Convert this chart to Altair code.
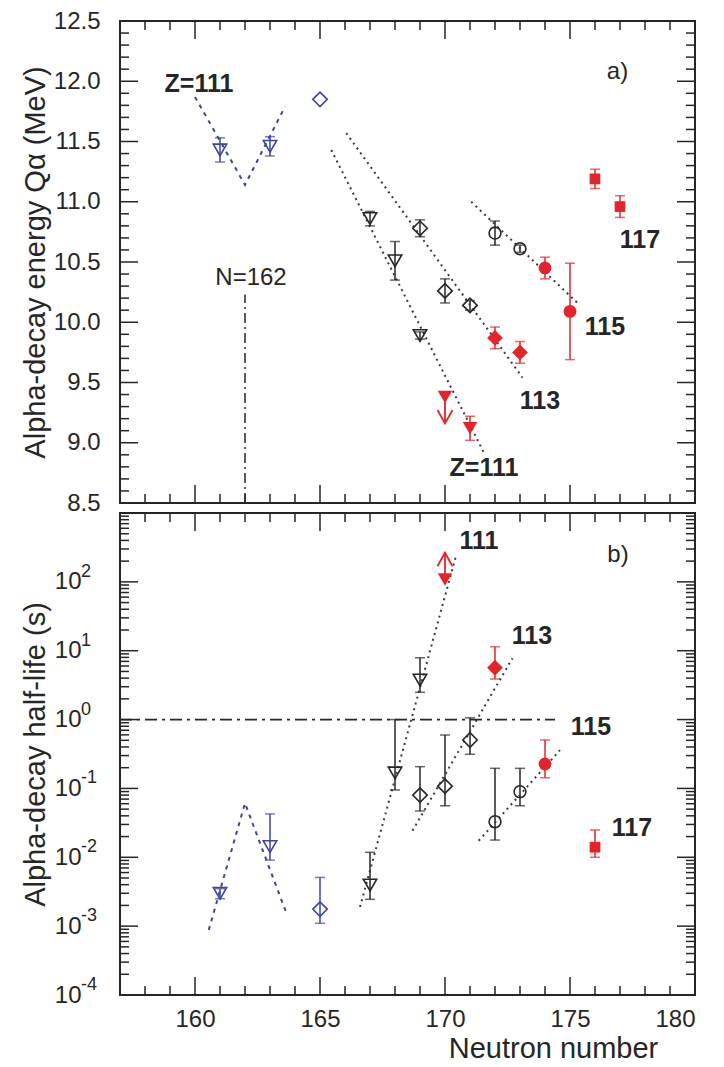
import altair as alt
import pandas as pd

FONT = "Liberation Sans"
INK = "#262626"
RED = "#e3242b"
BLUE = "#3d45a0"
DOT = "#3a3a3a"

# ---------------- panel a) : alpha-decay energies (MeV) ----------------
qa_N = [161, 163, 165, 167, 168, 169, 169, 170, 171, 172, 173, 172, 173, 174, 175, 176, 177, 170, 171]
qa_Q = [11.43, 11.46, 11.85, 10.86, 10.51, 10.78, 9.89, 10.26, 10.14, 10.74, 10.61,
        9.87, 9.75, 10.45, 10.09, 11.19, 10.96, 9.38, 9.12]
qa_err = [0.10, 0.08, 0.0, 0.06, 0.16, 0.07, 0.03, 0.10, 0.04, 0.10, 0.03,
          0.09, 0.09, 0.09, 0.40, 0.08, 0.09, 0.0, 0.10]
qa_style = ["b_tri", "b_tri", "b_dia", "k_tri", "k_tri", "k_dia", "k_tri", "k_dia", "k_dia",
            "k_cir", "k_cir", "r_dia", "r_dia", "r_cir", "r_cir", "r_sq", "r_sq", "r_tri", "r_tri"]

# upper limit arrow (panel a)
qa_lim_N = [170]
qa_lim_from = [9.38]
qa_lim_to = [9.16]

# systematics lines (panel a)
qa_line_series = ["blue", "blue", "blue", "111", "111", "113", "113", "115", "115"]
qa_line_N = [160.0, 162.0, 163.6, 165.45, 171.55, 166.05, 173.1, 171.05, 175.3]
qa_line_Q = [11.87, 11.14, 11.79, 11.43, 8.92, 11.57, 9.54, 11.0, 10.16]

# N=162 dash-dot marker line
n162_N = [162]
n162_from = [8.5]
n162_to = [10.23]

qa_bold_text = ["Z=111", "117", "115", "113", "Z=111"]
qa_bold_N = [160.16, 177.8, 176.4, 173.8, 171.56]
qa_bold_Q = [11.98, 10.68, 9.96, 9.35, 8.79]
qa_plain_text = ["N=162", "a)"]
qa_plain_N = [162.24, 176.9]
qa_plain_Q = [10.37, 12.08]

# ---------------- panel b) : alpha-decay half-lives (s) ----------------
t_N = [161, 163, 165, 167, 168, 169, 169, 170, 171, 172, 173, 172, 174, 176, 170]
t_T = [0.0030, 0.0143, 0.00177, 0.00395, 0.168, 3.75, 0.080, 0.108, 0.505, 0.0329, 0.0898,
       5.66, 0.226, 0.0140, 108]
t_lo = [0.0025, 0.0091, 0.0011, 0.00245, 0.095, 2.49, 0.047, 0.056, 0.313, 0.0178, 0.056,
        3.88, 0.143, 0.010, 108]
t_hi = [0.0035, 0.0426, 0.0051, 0.0118, 1.0, 7.9, 0.207, 0.597, 1.06, 0.196, 0.196,
        11.4, 0.505, 0.0249, 108]
t_style = ["b_tri", "b_tri", "b_dia", "k_tri", "k_tri", "k_tri", "k_dia", "k_dia", "k_dia",
           "k_cir", "k_cir", "r_dia", "r_cir", "r_sq", "r_tri"]

t_lim_N = [170]
t_lim_from = [108]
t_lim_to = [265]

t_line_series = ["blue", "blue", "blue", "111", "111", "113", "113", "115", "115"]
t_line_N = [160.55, 162.0, 163.65, 166.6, 170.45, 168.7, 172.7, 171.35, 174.6]
t_line_T = [0.00088, 0.061, 0.00157, 0.0019, 245, 0.0243, 7.8, 0.0174, 0.36]

one_sec_from_N = [157]
one_sec_to_N = [174.4]
one_sec_T = [1.0]

t_bold_text = ["111", "113", "115", "117"]
t_bold_N = [171.36, 173.48, 175.84, 177.48]
t_bold_T = [392, 16.3, 0.78, 0.0266]
t_plain_text = ["b)"]
t_plain_N = [176.92]
t_plain_T = [245]

# axis tick values / labels
x_major = [160, 165, 170, 175, 180]
x_minor = [n for n in range(158, 180) if n % 5 != 0]
qa_major = [8.5, 9.0, 9.5, 10.0, 10.5, 11.0, 11.5, 12.0, 12.5]
qa_minor = [round(8.5 + 0.1 * i, 2) for i in range(41) if i % 5 != 0]
t_major = [1e-4, 1e-3, 1e-2, 1e-1, 1.0, 10.0, 100.0, 1000.0]
t_minor = [k * 10.0 ** d for d in range(-4, 3) for k in range(2, 10)]
t_label_vals = [1e-4, 1e-3, 1e-2, 1e-1, 1.0, 10.0, 100.0]
t_label_exps = ["-4", "-3", "-2", "-1", "0", "1", "2"]

# ---------------- styling ----------------
W, H = 575, 482
STYLE = {
    "b_tri": ("triangle-down", BLUE, False, 180),
    "b_dia": ("diamond", BLUE, False, 210),
    "k_tri": ("triangle-down", INK, False, 180),
    "k_dia": ("diamond", INK, False, 210),
    "k_cir": ("circle", INK, False, 140),
    "r_tri": ("triangle-down", RED, True, 210),
    "r_dia": ("diamond", RED, True, 250),
    "r_cir": ("circle", RED, True, 165),
    "r_sq": ("square", RED, True, 115),
}
style_keys = list(STYLE)
style_colors = [STYLE[k][1] for k in style_keys]
color_enc = alt.Color("style:N", scale=alt.Scale(domain=style_keys, range=style_colors), legend=None)

xs = alt.Scale(domain=[157, 180], nice=False, zero=False)


class Panel:
    def __init__(self, ys, yaxis, xaxis, y_maj, y_min):
        self.ys, self.yaxis, self.xaxis = ys, yaxis, xaxis
        self.y_maj, self.y_min = y_maj, y_min

    def X(self, f):
        return alt.X(f, scale=xs, axis=self.xaxis)

    def Y(self, f):
        return alt.Y(f, scale=self.ys, axis=self.yaxis)

    def ticks(self):
        layers = []
        for vals, L in ((self.y_maj, 18), (self.y_min, 9)):
            d = pd.DataFrame({"v": vals})
            b = alt.Chart(d).mark_rule(color=INK, strokeWidth=1.5)
            layers.append(b.encode(y=self.Y("v:Q"), x=alt.value(0), x2=alt.value(L)))
            layers.append(b.encode(y=self.Y("v:Q"), x=alt.value(W - L), x2=alt.value(W)))
        for vals, L in ((x_major, 18), (x_minor, 9)):
            d = pd.DataFrame({"v": vals})
            b = alt.Chart(d).mark_rule(color=INK, strokeWidth=1.5)
            layers.append(b.encode(x=self.X("v:Q"), y=alt.value(0), y2=alt.value(L)))
            layers.append(b.encode(x=self.X("v:Q"), y=alt.value(H - L), y2=alt.value(H)))
        return layers

    def points(self, df):
        layers = []
        present = set(df["style"])
        for k in style_keys:
            if k not in present:
                continue
            shape, col, filled, size = STYLE[k]
            layers.append(
                alt.Chart(df).transform_filter(alt.datum.style == k)
                .mark_point(shape=shape, color=col, filled=filled, size=size, strokeWidth=1.6, opacity=1)
                .encode(x=self.X("N:Q"), y=self.Y("val:Q"))
            )
        return layers

    def build(self, df, lines, bold, plain, lim, path, extra):
        err = df[df["hi"] > df["lo"]]
        bars = alt.Chart(err).mark_rule(strokeWidth=1.5).encode(
            x=self.X("N:Q"), y=self.Y("lo:Q"), y2="hi:Q", color=color_enc)
        caps_lo = alt.Chart(err).mark_tick(orient="horizontal", size=10, thickness=1.5).encode(
            x=self.X("N:Q"), y=self.Y("lo:Q"), color=color_enc)
        caps_hi = alt.Chart(err).mark_tick(orient="horizontal", size=10, thickness=1.5).encode(
            x=self.X("N:Q"), y=self.Y("hi:Q"), color=color_enc)
        black_lines = alt.Chart(lines).transform_filter(alt.datum.series != "blue").mark_line(
            color=DOT, strokeWidth=2, strokeDash=[2, 4]).encode(
            x=self.X("N:Q"), y=self.Y("val:Q"), detail="series:N")
        blue_line = alt.Chart(lines).transform_filter(alt.datum.series == "blue").mark_line(
            color=BLUE, strokeWidth=2, strokeDash=[4, 5]).encode(
            x=self.X("N:Q"), y=self.Y("val:Q"))
        lim_rule = alt.Chart(lim).mark_rule(color=RED, strokeWidth=1.8).encode(
            x=self.X("N:Q"), y=self.Y("a:Q"), y2="b:Q")
        lim_head = alt.Chart(lim).mark_point(
            shape=path, color=RED, filled=False, size=225, strokeWidth=1.8, opacity=1).encode(
            x=self.X("N:Q"), y=self.Y("b:Q"))
        bold_txt = alt.Chart(bold).mark_text(font=FONT, fontSize=25, fontWeight="bold", color=INK).encode(
            x=self.X("N:Q"), y=self.Y("val:Q"), text="t:N")
        plain_txt = alt.Chart(plain).mark_text(font=FONT, fontSize=24, color=INK).encode(
            x=self.X("N:Q"), y=self.Y("val:Q"), text="t:N")
        layers = [bars] + extra + [black_lines, blue_line, caps_lo, caps_hi, lim_rule, lim_head] \
            + self.points(df) + [bold_txt, plain_txt] + self.ticks()
        return alt.layer(*layers).properties(width=W, height=H)


# ---- panel a data frames ----
df_a = pd.DataFrame({"N": qa_N, "val": qa_Q,
                     "lo": [q - e for q, e in zip(qa_Q, qa_err)],
                     "hi": [q + e for q, e in zip(qa_Q, qa_err)], "style": qa_style})
lines_a = pd.DataFrame({"series": qa_line_series, "N": qa_line_N, "val": qa_line_Q})
bold_a = pd.DataFrame({"t": qa_bold_text, "N": qa_bold_N, "val": qa_bold_Q})
plain_a = pd.DataFrame({"t": qa_plain_text, "N": qa_plain_N, "val": qa_plain_Q})
lim_a = pd.DataFrame({"N": qa_lim_N, "a": qa_lim_from, "b": qa_lim_to})

# ---- panel b data frames ----
df_b = pd.DataFrame({"N": t_N, "val": t_T, "lo": t_lo, "hi": t_hi, "style": t_style})
lines_b = pd.DataFrame({"series": t_line_series, "N": t_line_N, "val": t_line_T})
bold_b = pd.DataFrame({"t": t_bold_text, "N": t_bold_N, "val": t_bold_T})
plain_b = pd.DataFrame({"t": t_plain_text, "N": t_plain_N, "val": t_plain_T})
lim_b = pd.DataFrame({"N": t_lim_N, "a": t_lim_from, "b": t_lim_to})
exps_b = pd.DataFrame({"v": t_label_vals, "e": t_label_exps})

ys_a = alt.Scale(domain=[8.5, 12.5], nice=False, zero=False)
ys_b = alt.Scale(type="log", domain=[1e-4, 1e3], nice=False)

yaxis_a = alt.Axis(values=qa_major, format=".1f", ticks=False, tickSize=0, domain=False, grid=False,
                   labelFontSize=24, labelFont=FONT, labelColor=INK, labelPadding=20,
                   title="Alpha-decay energy Qα (MeV)", titleFont=FONT, titleFontSize=29,
                   titleFontWeight="normal", titleColor=INK, titleX=-85, titleY=H / 2,
                   titleAngle=270, titleAlign="center", titleBaseline="middle")

yaxis_b = alt.Axis(values=t_label_vals, labelExpr="'10'",
                   ticks=False, tickSize=0, domain=False, grid=False,
                   labelFontSize=24, labelFont=FONT, labelColor=INK, labelPadding=39,
                   title="Alpha-decay half-life (s)", titleFont=FONT, titleFontSize=29,
                   titleFontWeight="normal", titleColor=INK, titleX=-85, titleY=H / 2,
                   titleAngle=270, titleAlign="center", titleBaseline="middle")

xaxis_b = alt.Axis(values=x_major, format="d", ticks=False, tickSize=0, domain=False, grid=False,
                   labelFontSize=24, labelFont=FONT, labelColor=INK, labelPadding=12,
                   title="Neutron number",
                   titleFont=FONT, titleFontSize=29, titleFontWeight="normal", titleColor=INK,
                   titleX=433, titleY=62, titleAlign="center", titleBaseline="alphabetic")

pa = Panel(ys_a, yaxis_a, None, qa_major, qa_minor)
pb = Panel(ys_b, yaxis_b, xaxis_b, t_major, t_minor)

n162 = alt.Chart(pd.DataFrame({"N": n162_N, "a": n162_from, "b": n162_to})).mark_rule(
    color=INK, strokeWidth=1.5, strokeDash=[10, 4, 2, 4]).encode(
    x=pa.X("N:Q"), y=pa.Y("a:Q"), y2="b:Q")
one_sec = alt.Chart(pd.DataFrame({"a": one_sec_from_N, "b": one_sec_to_N, "T": one_sec_T})).mark_rule(
    color=INK, strokeWidth=1.8, strokeDash=[12, 5, 3, 5]).encode(
    x=pb.X("a:Q"), x2="b:Q", y=pb.Y("T:Q"))
# superscript exponents of the log-axis labels
exps = alt.Chart(exps_b).mark_text(font=FONT, fontSize=18, color=INK, align="left",
                                   baseline="middle", dy=-10).encode(
    y=pb.Y("v:Q"), x=alt.value(-39), text="e:N")

top = pa.build(df_a, lines_a, bold_a, plain_a, lim_a, "M-1,-1.8L0,0L1,-1.8", [n162])
bottom = pb.build(df_b, lines_b, bold_b, plain_b, lim_b, "M-1,1.8L0,0L1,1.8", [one_sec, exps])

chart = alt.vconcat(top, bottom, spacing=10, bounds="flush").properties(
    padding={"left": 11, "top": 0, "right": 0, "bottom": 0},
    background="white",
).configure_view(stroke=INK, strokeWidth=2)

chart.save("out.html", embed_options={"renderer": "svg", "actions": False})
